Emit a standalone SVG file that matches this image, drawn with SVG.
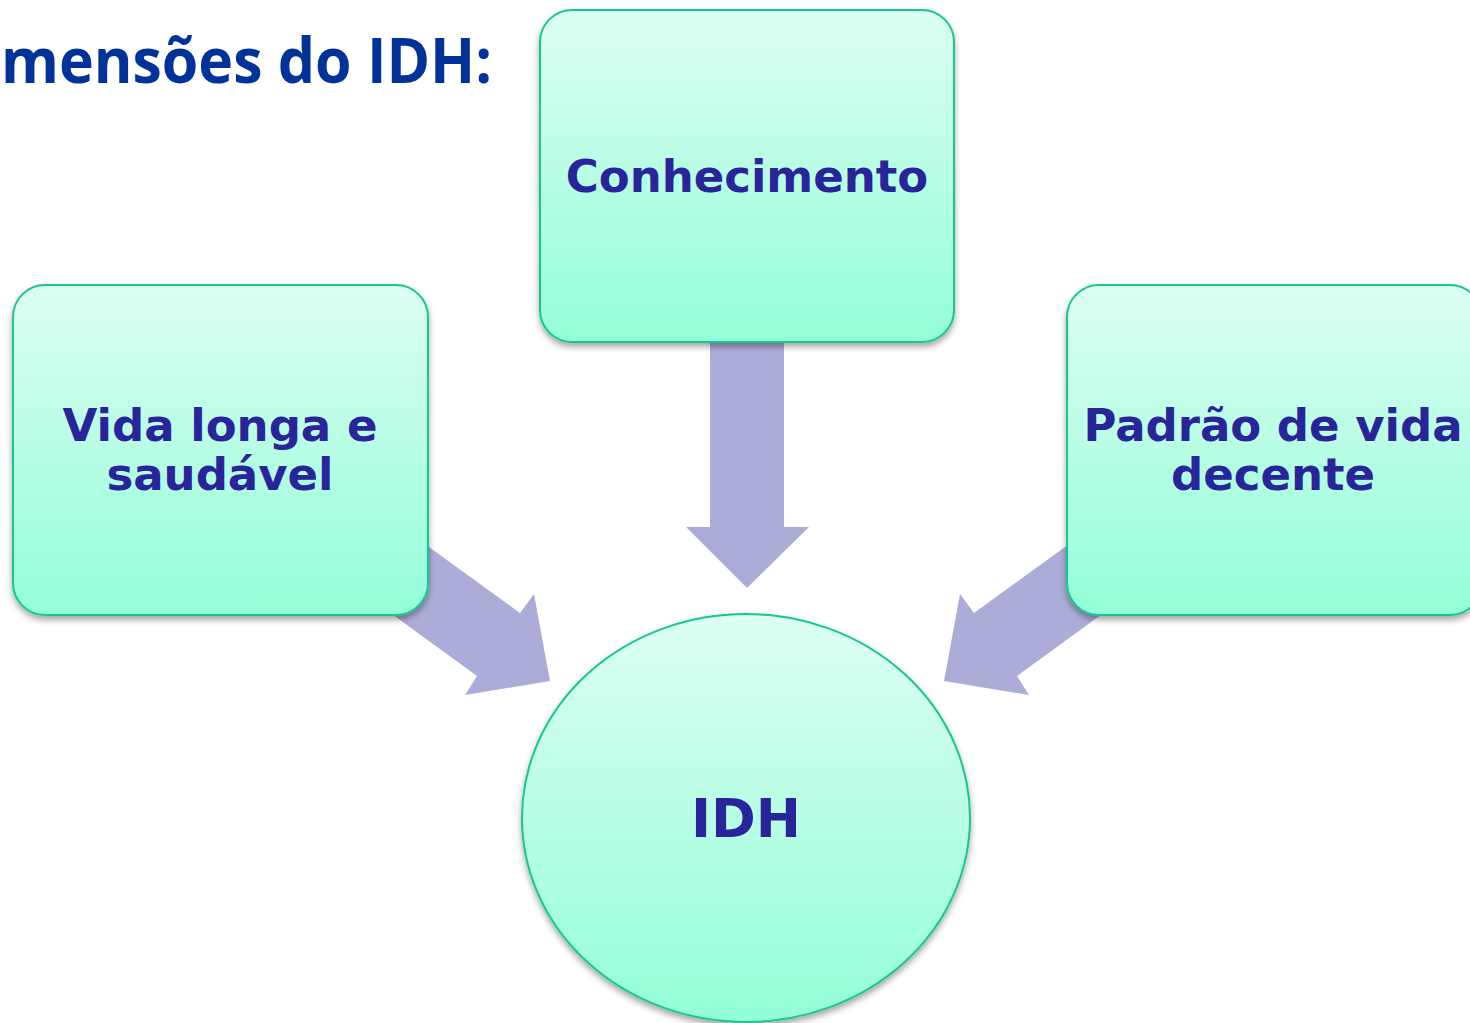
<svg xmlns="http://www.w3.org/2000/svg" width="1470" height="1023" viewBox="0 0 1470 1023">
<defs>
<linearGradient id="g" x1="0" y1="0" x2="0" y2="1">
<stop offset="0" stop-color="#dcfef1"/>
<stop offset="1" stop-color="#93fed7"/>
</linearGradient>
<filter id="sh" x="-10%" y="-10%" width="120%" height="125%">
<feDropShadow dx="0" dy="4" stdDeviation="3" flood-color="#000" flood-opacity="0.35"/>
</filter>
<style>
.box{fill:url(#g);stroke:#14c78f;stroke-width:2;filter:url(#sh)}
.lbl{font-family:"DejaVu Sans",Verdana,sans-serif;font-weight:bold;fill:#29249a;text-anchor:middle}
.arr{fill:#acacd8}
.title{font-family:"Open Sans","Liberation Sans",sans-serif;font-weight:bold;fill:#003399}
</style>
</defs>
<rect width="1470" height="1023" fill="#fff"/>
<text class="title" x="1" y="83" font-size="62" textLength="491" lengthAdjust="spacingAndGlyphs">mensões do IDH:</text>
<g id="connectors">
<polygon class="arr" points="710,330 784,330 784,527 809,527 747,588 686,527 710,527"/>
<polygon class="arr" points="360,497 520,613 534,594 550,681 465,695 477,676 315,558"/>
<polygon class="arr" points="1134,497 974,613 960,594 944,681 1029,695 1017,676 1179,558"/>
</g>
<g id="node-conhecimento">
<rect class="box" x="540" y="10" width="414" height="332" rx="32"/>
<text class="lbl" x="747" y="192" font-size="45">Conhecimento</text>
</g>
<g id="node-vida">
<rect class="box" x="13" y="285" width="415" height="330" rx="32"/>
<text class="lbl" x="220" y="441" font-size="45">Vida longa e</text>
<text class="lbl" x="220" y="490" font-size="45">saudável</text>
</g>
<g id="node-padrao">
<rect class="box" x="1067" y="285" width="415" height="330" rx="32"/>
<text class="lbl" x="1273" y="441" font-size="45">Padrão de vida</text>
<text class="lbl" x="1273" y="490" font-size="45">decente</text>
</g>
<g id="node-idh">
<ellipse class="box" cx="746" cy="818" rx="224" ry="204"/>
<text class="lbl" x="746" y="837" font-size="54">IDH</text>
</g>
</svg>
